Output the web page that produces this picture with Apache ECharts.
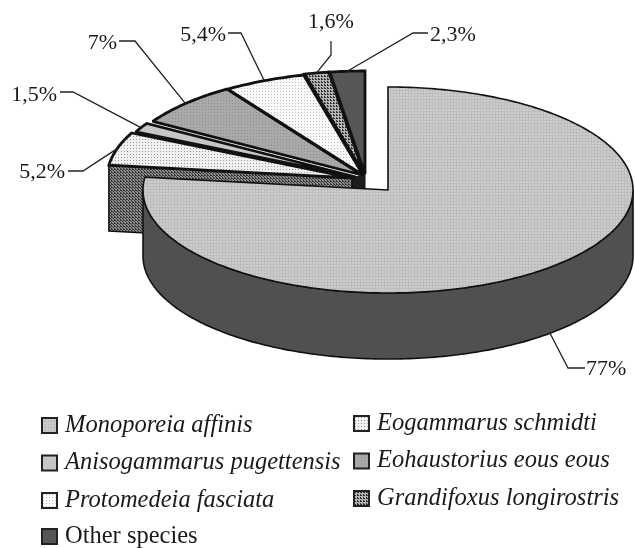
<!DOCTYPE html>
<html>
<head>
<meta charset="utf-8">
<title>Species share</title>
<style>
    html, body { margin: 0; padding: 0; background: #fff; }
    #chart { width: 635px; height: 548px; }
</style>
</head>
<body>
<div id="chart"></div>
<script src="https://cdn.jsdelivr.net/npm/echarts@6/dist/echarts.min.js"></script>
<script>
// data, clockwise from 12 o'clock
var species = ['Monoporeia affinis', 'Eogammarus schmidti', 'Anisogammarus pugettensis', 'Eohaustorius eous eous', 'Protomedeia fasciata', 'Grandifoxus longirostris', 'Other species'];
var shares = [77, 5.2, 1.5, 7, 5.4, 1.6, 2.3];
var shareLabels = ['77%', '5,2%', '1,5%', '7%', '5,4%', '1,6%', '2,3%'];

// pie layout
var pieCenter = [365, 175];
var rx = 245, ry = 103, depth = 66;
var pull = [[23, 15], [-13, 3], [-9, 2], [-3, 0], [-2, 0], [-1, -1], [0, -1]];
// elbow and end of each leader line, then label position
var leaders = [
    [[568, 368], [585, 368], [586, 369]],
    [[83, 171], [68, 171], [65, 172]],
    [[73, 92], [60, 92], [57, 95]],
    [[135, 41], [119, 41], [117, 43]],
    [[241, 33], [228, 33], [226, 35]],
    [[331, 55], [331, 41], [331, 22]],
    [[413, 33], [428, 33], [430, 35]]
];
var serif = '"Liberation Serif", "Times New Roman", serif';

// little tiled fills, the original is a b/w print
function tile(bg, dot, size, cells) {
    var c = document.createElement('canvas');
    c.width = c.height = size;
    var ctx = c.getContext('2d');
    ctx.fillStyle = bg;
    ctx.fillRect(0, 0, size, size);
    ctx.fillStyle = dot;
    cells.forEach(function (p) { ctx.fillRect(p[0], p[1], 1, 1); });
    return { image: c, repeat: 'repeat' };
}
var fills = [
    tile('#cdcdcd', '#bdbdbd', 3, [[0, 0], [0, 1], [0, 2], [1, 0], [2, 0]]),
    tile('#efefef', '#9a9a9a', 3, [[1, 1]]),
    '#c6c6c6',
    tile('#a9a9a9', '#8d8d8d', 3, [[1, 1]]),
    tile('#fafafa', '#bcbcbc', 3, [[1, 1]]),
    tile('#b5b5b5', '#333333', 3, [[0, 0], [1, 1], [0, 1]]),
    '#565656'
];
var cutFace = tile('#8e8e8e', '#333333', 3, [[0, 0], [1, 1], [0, 1], [2, 2]]);
var mainSide = '#505050';

function rim(c, deg) {
    var a = deg * Math.PI / 180;
    return [c[0] + rx * Math.sin(a), c[1] - ry * Math.cos(a)];
}
function arc(c, from, to) {
    var pts = [];
    var n = Math.max(2, Math.ceil(Math.abs(to - from)));
    for (var i = 0; i <= n; i++) pts.push(rim(c, from + (to - from) * i / n));
    return pts;
}
function drop(pts) {
    return pts.map(function (p) { return [p[0], p[1] + depth]; });
}
function tipOf(i) {
    return [pieCenter[0] + pull[i][0], pieCenter[1] + pull[i][1]];
}

function renderSlice(params, api) {
    var i = params.seriesIndex;
    var before = 0;
    for (var k = 0; k < i; k++) before += shares[k];
    var start = before * 3.6;
    var end = start + api.value(0) * 3.6;
    var mid = (start + end) / 2;
    var c = tipOf(i);
    var children = [];
    var edge = { stroke: '#111', lineWidth: 1.6 };

    if (i === 0) {
        // outer wall of the big slice, front half only
        var front = arc(c, 90, 270);
        children.push({
            type: 'polygon',
            shape: { points: front.concat(drop(front).reverse()) },
            style: { fill: mainSide, stroke: edge.stroke, lineWidth: edge.lineWidth }
        });
    }
    if (i === 1) {
        // walls under the meeting point of the small slices
        var tips = [1, 2, 3, 4, 5, 6].map(tipOf);
        children.push({
            type: 'polygon',
            shape: { points: tips.concat(drop(tips).reverse()) },
            style: { fill: '#1c1c1c', stroke: '#111', lineWidth: 1 }
        });
        // cut face of the first small slice, shows behind the big one
        var a = rim(c, start);
        children.push({
            type: 'polygon',
            shape: { points: [c, a, [a[0], a[1] + depth], [c[0], c[1] + depth]] },
            style: { fill: cutFace, stroke: edge.stroke, lineWidth: edge.lineWidth }
        });
    }
    children.push({
        type: 'polygon',
        shape: { points: [c].concat(arc(c, start, end)) },
        style: { fill: fills[i], stroke: edge.stroke, lineWidth: i === 0 ? 1.6 : 2.8, lineJoin: 'miter', miterLimit: 2 }
    });

    // leader line starts on the rim at the middle of the slice
    var from = rim(c, mid);
    if (i === 0) from[1] += depth;
    var lead = leaders[i];
    children.push({
        type: 'polyline',
        shape: { points: [from, lead[0], lead[1]] },
        style: { fill: null, stroke: '#222', lineWidth: 1.3 }
    });
    var align = lead[2][0] < from[0] && i !== 5 ? 'right' : (i === 5 ? 'center' : 'left');
    children.push({
        type: 'text',
        style: {
            text: shareLabels[i], x: lead[2][0], y: lead[2][1],
            font: '22px ' + serif, fill: '#1a1a1a', align: align, verticalAlign: 'middle'
        }
    });
    return { type: 'group', children: children };
}

var series = species.map(function (name, i) {
    return {
        name: name,
        type: 'custom',
        coordinateSystem: 'none',
        renderItem: renderSlice,
        z: i === 0 ? 3 : 2,
        silent: true,
        itemStyle: { color: fills[i], borderColor: '#222', borderWidth: 1.6 },
        data: [[shares[i]]]
    };
});

function legendBlock(names, left, top, style) {
    return {
        data: names,
        left: left,
        top: top,
        orient: 'vertical',
        padding: 0,
        icon: 'rect',
        itemWidth: 15,
        itemHeight: 15,
        itemGap: 12.5,
        selectedMode: false,
        textStyle: { fontFamily: serif, fontSize: 24.5, fontStyle: style, color: '#1a1a1a', padding: [0, 0, 0, 3] }
    };
}

var myChart = echarts.init(document.getElementById('chart'));
myChart.setOption({
    animation: false,
    backgroundColor: '#fff',
    legend: [
        legendBlock([species[0], species[2], species[4]], 41, 413, 'italic'),
        legendBlock([species[1], species[3], species[5]], 353, 411, 'italic'),
        legendBlock([species[6]], 41, 524, 'normal')
    ],
    series: series
});
</script>
</body>
</html>
